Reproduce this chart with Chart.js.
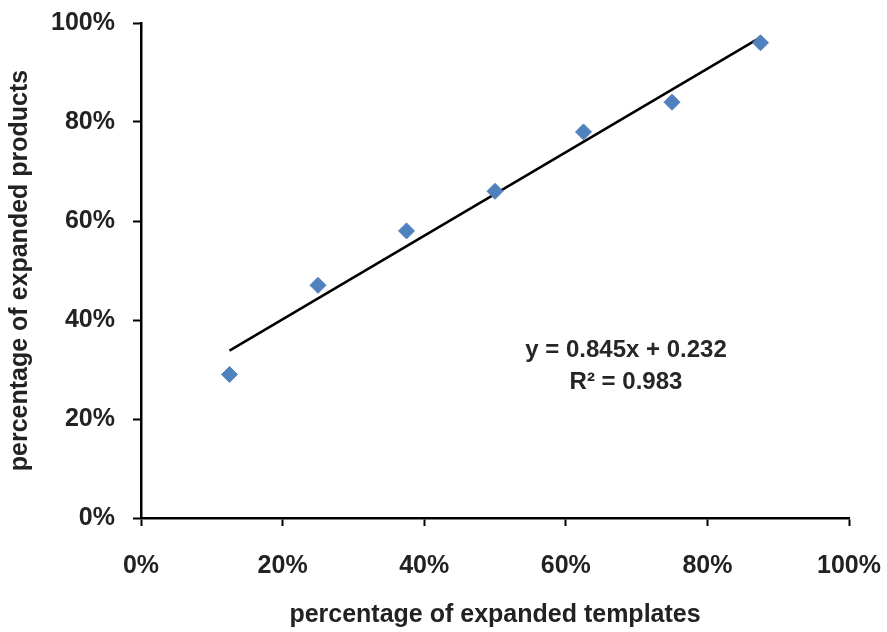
<!DOCTYPE html>
<html>
<head>
<meta charset="utf-8">
<script src="https://cdn.jsdelivr.net/npm/chart.js@4.4.0/dist/chart.umd.min.js"></script>
<style>
  html, body { margin: 0; padding: 0; background: #fff; }
  #wrap { width: 887px; height: 632px; }
</style>
</head>
<body>
<div id="wrap"><canvas id="chart"></canvas></div>
<script>
// Dati
const TEMPLATES = [0.125, 0.25, 0.375, 0.5, 0.625, 0.75, 0.875];
const PRODUCTS = [0.29, 0.47, 0.58, 0.66, 0.78, 0.84, 0.96];
const TREND_X = [0.125, 0.875];
const TREND_Y = [0.338, 0.971];
const TICKS = [0, 0.2, 0.4, 0.6, 0.8, 1];
const EQUATION = ['y = 0.845x + 0.232', 'R\u00b2 = 0.983'];

const FONT = "'Liberation Sans', Arial, sans-serif";
const EQ_POS = { x: 0.685, y: 0.339, gap: 0.065 };

// Testo dell'equazione della retta
const equationLabel = {
    id: 'equationLabel',
    afterDatasetsDraw(chart) {
        const { ctx, scales: { x, y } } = chart;
        ctx.save();
        ctx.fillStyle = '#262626';
        ctx.font = 'bold 24px ' + FONT;
        ctx.textAlign = 'center';
        ctx.textBaseline = 'middle';
        EQUATION.forEach((line, i) => {
            ctx.fillText(line, x.getPixelForValue(EQ_POS.x), y.getPixelForValue(EQ_POS.y - i * EQ_POS.gap));
        });
        ctx.restore();
    }
};

const axisCommon = {
    type: 'linear',
    min: 0,
    max: 1,
    afterBuildTicks: (scale) => { scale.ticks = TICKS.map(v => ({ value: v })); },
    border: { display: true, color: '#000', width: 2.5 },
    grid: { drawOnChartArea: false, drawTicks: true, tickLength: 8, tickColor: '#000', tickWidth: 2 }
};

new Chart(document.getElementById('chart'), {
    type: 'scatter',
    data: {
        datasets: [
            {
                label: 'dati',
                data: TEMPLATES.map((t, i) => ({ x: t, y: PRODUCTS[i] })),
                pointStyle: 'rectRot',
                pointRadius: 8,
                pointBackgroundColor: '#4F81BD',
                pointBorderColor: '#4F81BD',
                pointBorderWidth: 1
            },
            {
                label: 'trend',
                type: 'line',
                data: TREND_X.map((t, i) => ({ x: t, y: TREND_Y[i] })),
                borderColor: '#000',
                borderWidth: 2.5,
                pointRadius: 0,
                fill: false
            }
        ]
    },
    options: {
        responsive: true,
        maintainAspectRatio: false,
        animation: false,
        layout: { padding: { top: 23, right: 38, left: 0, bottom: 0 } },
        plugins: { legend: { display: false }, tooltip: { enabled: false } },
        scales: {
            x: {
                ...axisCommon,
                afterFit: (scale) => {
                    scale.height = 114;
                    scale.paddingLeft = 0;
                    scale.paddingRight = 0;
                },
                ticks: {
                    color: '#222',
                    padding: 25,
                    maxRotation: 0,
                    font: { family: FONT, size: 25, weight: 'bold' },
                    callback: (v) => Math.round(v * 100) + '%'
                },
                title: {
                    display: true,
                    text: 'percentage of expanded templates',
                    color: '#222',
                    padding: { top: 0, bottom: 2 },
                    font: { family: FONT, size: 25, weight: 'bold' }
                }
            },
            y: {
                ...axisCommon,
                afterFit: (scale) => {
                    scale.width = 141;
                    scale.paddingTop = 0;
                    scale.paddingBottom = 0;
                },
                ticks: {
                    color: '#222',
                    padding: 18,
                    font: { family: FONT, size: 25, weight: 'bold' },
                    callback: (v) => Math.round(v * 100) + '%'
                },
                title: {
                    display: true,
                    text: 'percentage of expanded products',
                    color: '#222',
                    padding: { top: 5, bottom: 0 },
                    font: { family: FONT, size: 25, weight: 'bold' }
                }
            }
        }
    },
    plugins: [equationLabel]
});
</script>
</body>
</html>
